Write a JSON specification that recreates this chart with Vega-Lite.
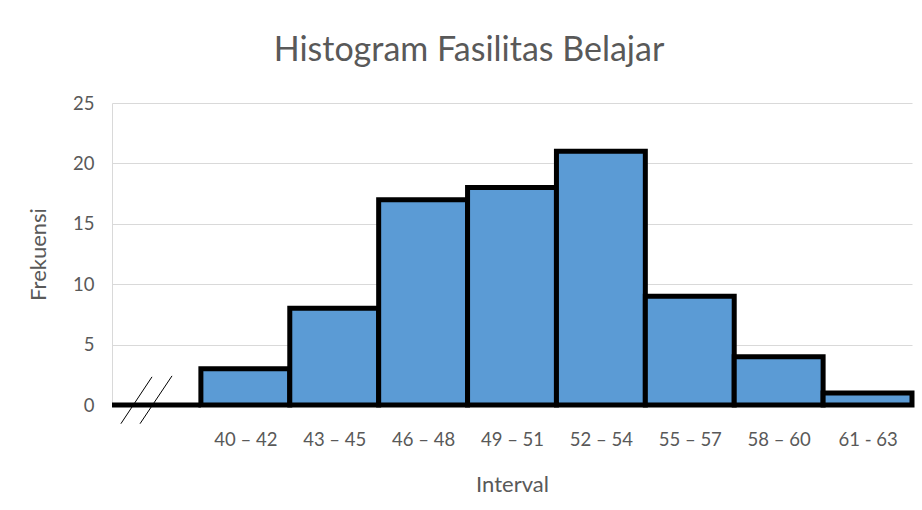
{
  "$schema": "https://vega.github.io/schema/vega-lite/v6.json",
  "width": 800,
  "height": 302,
  "autosize": {"type": "none"},
  "padding": {"left": 112, "top": 103, "right": 10, "bottom": 105},
  "background": "white",
  "config": {
    "font": "Lato",
    "view": {"stroke": null},
    "axis": {"labelColor": "#595959", "titleColor": "#595959", "labelFont": "Lato", "titleFont": "Lato", "labelFontSize": 18.5, "titleFontSize": 22, "titleFontWeight": "normal"}
  },
  "title": {"text": "Histogram Fasilitas Belajar", "fontSize": 34, "font": "Lato", "fontWeight": "normal", "color": "#595959", "anchor": "middle", "dx": -43, "offset": 26},
  "datasets": {
    "bars": [
      {"interval": "", "lo": 0, "hi": 1, "frekuensi": 0},
      {"interval": "40 – 42", "lo": 1, "hi": 2, "frekuensi": 3},
      {"interval": "43 – 45", "lo": 2, "hi": 3, "frekuensi": 8},
      {"interval": "46 – 48", "lo": 3, "hi": 4, "frekuensi": 17},
      {"interval": "49 – 51", "lo": 4, "hi": 5, "frekuensi": 18},
      {"interval": "52 – 54", "lo": 5, "hi": 6, "frekuensi": 21},
      {"interval": "55 – 57", "lo": 6, "hi": 7, "frekuensi": 9},
      {"interval": "58 – 60", "lo": 7, "hi": 8, "frekuensi": 4},
      {"interval": "61 - 63", "lo": 8, "hi": 9, "frekuensi": 1}
    ],
    "breaks": [
      {"bx": 0.1, "by": -1.55, "ex": 0.45, "ey": 2.33},
      {"bx": 0.315, "by": -1.55, "ex": 0.675, "ey": 2.41}
    ]
  },
  "layer": [
    {
      "data": {"name": "bars"},
      "mark": {"type": "rect", "fill": "#5B9BD5", "stroke": "black", "strokeWidth": 5, "strokeJoin": "miter"},
      "encoding": {
        "x": {"field": "lo", "type": "quantitative", "scale": {"domain": [0, 9], "nice": false, "zero": false},
          "axis": {"title": "Interval", "values": [1.5, 2.5, 3.5, 4.5, 5.5, 6.5, 7.5, 8.5],
            "labelExpr": "['', '40 – 42', '43 – 45', '46 – 48', '49 – 51', '52 – 54', '55 – 57', '58 – 60', '61 - 63'][floor(datum.value)]",
            "grid": false, "ticks": false, "labelPadding": 25, "titlePadding": 26, "domainColor": "#A6A6A6", "domainWidth": 1.5}},
        "x2": {"field": "hi"},
        "y": {"field": "frekuensi", "type": "quantitative", "scale": {"domain": [0, 25], "nice": false},
          "axis": {"title": "Frekuensi", "values": [0, 5, 10, 15, 20, 25], "gridColor": "#D9D9D9", "gridWidth": 1, "ticks": false, "labelPadding": 18, "titlePadding": 22, "domainColor": "#D9D9D9"}},
        "y2": {"datum": 0}
      }
    },
    {
      "data": {"name": "breaks"},
      "mark": {"type": "rule", "color": "black", "strokeWidth": 1},
      "encoding": {
        "x": {"field": "bx", "type": "quantitative"},
        "x2": {"field": "ex"},
        "y": {"field": "by", "type": "quantitative"},
        "y2": {"field": "ey"}
      }
    }
  ]
}
